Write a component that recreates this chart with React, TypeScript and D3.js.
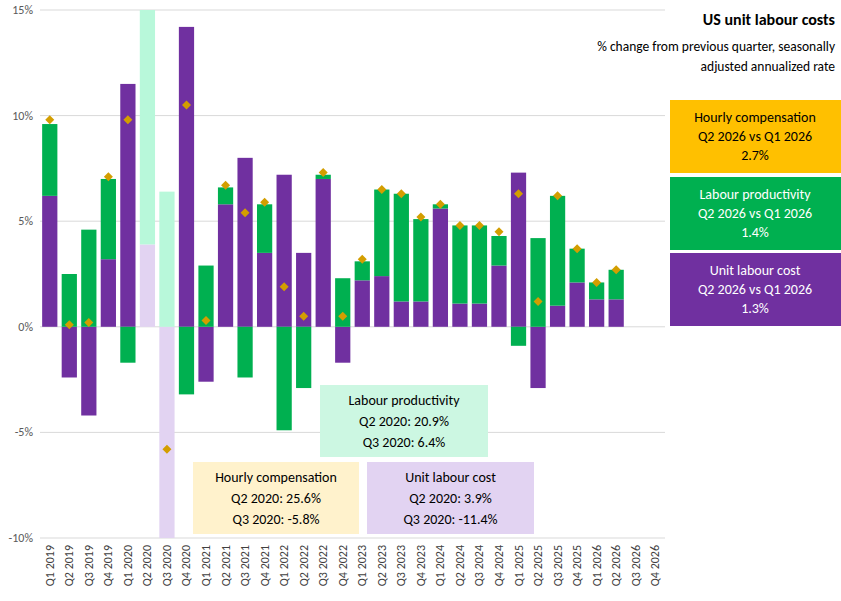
import React from 'react';
import * as d3 from 'd3';

const quarters = [
  'Q1 2019','Q2 2019','Q3 2019','Q4 2019','Q1 2020','Q2 2020','Q3 2020','Q4 2020',
  'Q1 2021','Q2 2021','Q3 2021','Q4 2021','Q1 2022','Q2 2022','Q3 2022','Q4 2022',
  'Q1 2023','Q2 2023','Q3 2023','Q4 2023','Q1 2024','Q2 2024','Q3 2024','Q4 2024',
  'Q1 2025','Q2 2025','Q3 2025','Q4 2025','Q1 2026','Q2 2026','Q3 2026','Q4 2026',
];
const unitLabourCost: (number | null)[] = [
  6.2, -2.4, -4.2, 3.2, 11.5, 3.9, -11.4, 14.2,
  -2.6, 5.8, 8.0, 3.5, 7.2, 3.5, 7.0, -1.7,
  2.2, 2.4, 1.2, 1.2, 5.6, 1.1, 1.1, 2.9,
  7.3, -2.9, 1.0, 2.1, 1.3, 1.3, null, null,
];
const productivity: (number | null)[] = [
  3.4, 2.5, 4.6, 3.8, -1.7, 20.9, 6.4, -3.2,
  2.9, 0.8, -2.4, 2.3, -4.9, -2.9, 0.2, 2.3,
  0.9, 4.1, 5.1, 3.9, 0.2, 3.7, 3.7, 1.4,
  -0.9, 4.2, 5.2, 1.6, 0.8, 1.4, null, null,
];
const hourlyComp: (number | null)[] = [
  9.8, 0.1, 0.2, 7.1, 9.8, 25.6, -5.8, 10.5,
  0.3, 6.7, 5.4, 5.9, 1.9, 0.5, 7.3, 0.5,
  3.2, 6.5, 6.3, 5.2, 5.8, 4.8, 4.8, 4.5,
  6.3, 1.2, 6.2, 3.7, 2.1, 2.7, null, null,
];
const yTicks = [-10, -5, 0, 5, 10, 15];
const outliers = ['Q2 2020', 'Q3 2020'];

const PURPLE = '#7030A0', GREEN = '#00B050', GOLD = '#D39E00', ORANGE = '#FFC000';
const LGREEN = '#B8F8DA', LPURPLE = '#E2D3F2';
const font = 'Calibri, Carlito, "Liberation Sans", Arial, sans-serif';

export default function App() {
  const W = 841, H = 601;
  const m = { left: 40, right: 176, top: 10, bottom: 63 };
  const x = d3.scaleBand().domain(quarters).range([m.left, W - m.right]).paddingInner(0.22).paddingOuter(0.11);
  const y = d3.scaleLinear().domain([-10, 15]).range([H - m.bottom, m.top]);
  const clip = (v: number) => y(Math.max(-10, Math.min(15, v)));

  const bars: JSX.Element[] = [];
  quarters.forEach((q, i) => {
    const u = unitLabourCost[i], p = productivity[i];
    if (u == null || p == null) return;
    const light = outliers.includes(q);
    let pos = 0, neg = 0;
    const add = (v: number, color: string, key: string) => {
      const base = v >= 0 ? pos : neg;
      const top = base + v;
      if (v >= 0) pos = top; else neg = top;
      const y0 = clip(base), y1 = clip(top);
      bars.push(<rect key={q + key} x={x(q)} width={x.bandwidth()} y={Math.min(y0, y1)} height={Math.abs(y1 - y0)} fill={color} />);
    };
    add(u, light ? LPURPLE : PURPLE, 'u');
    add(p, light ? LGREEN : GREEN, 'p');
  });

  const diamonds = quarters.map((q, i) => {
    const h = hourlyComp[i];
    if (h == null || h > 15) return null;
    const cx = x(q)! + x.bandwidth() / 2, cy = y(h);
    return <path key={q} d={`M${cx},${cy - 4.5}L${cx + 4.5},${cy}L${cx},${cy + 4.5}L${cx - 4.5},${cy}Z`} fill={GOLD} />;
  });

  const legend = [
    { bg: ORANGE, fg: '#000', t: ['Hourly compensation', 'Q2 2026 vs Q1 2026', '2.7%'], y: 100 },
    { bg: GREEN, fg: '#fff', t: ['Labour productivity', 'Q2 2026 vs Q1 2026', '1.4%'], y: 177 },
    { bg: PURPLE, fg: '#fff', t: ['Unit labour cost', 'Q2 2026 vs Q1 2026', '1.3%'], y: 253 },
  ];
  const notes = [
    { bg: '#CCF7E2', x: 320, y: 385, w: 168, t: ['Labour productivity', 'Q2 2020: 20.9%', 'Q3 2020: 6.4%'] },
    { bg: '#FFF2CC', x: 193, y: 462, w: 166, t: ['Hourly compensation', 'Q2 2020: 25.6%', 'Q3 2020: -5.8%'] },
    { bg: '#E2D3F2', x: 367, y: 462, w: 167, t: ['Unit labour cost', 'Q2 2020: 3.9%', 'Q3 2020: -11.4%'] },
  ];

  return (
    <svg width={W} height={H} style={{ position: 'absolute', left: 0, top: 0, background: '#fff', fontFamily: font }}>
      <rect width={W} height={H} fill="#fff" />
      {yTicks.map(t => (
        <g key={t}>
          <line x1={m.left} x2={W - m.right} y1={y(t)} y2={y(t)} stroke="#D9D9D9" />
          <text x={33} y={y(t) + 4} textAnchor="end" fontSize={12} fill="#595959">{t}%</text>
        </g>
      ))}
      {bars}
      {diamonds}
      {quarters.map(q => (
        <text key={q} transform={`translate(${x(q)! + x.bandwidth() / 2 + 4},${H - m.bottom + 7}) rotate(-90)`} textAnchor="end" fontSize={12} fill="#404040">{q}</text>
      ))}
      <text x={835} y={25} textAnchor="end" fontSize={16} fontWeight="bold" fill="#000">US unit labour costs</text>
      <text x={835} y={51} textAnchor="end" fontSize={13.5} fill="#000">% change from previous quarter, seasonally</text>
      <text x={835} y={71} textAnchor="end" fontSize={13.5} fill="#000">adjusted annualized rate</text>
      {legend.map(l => (
        <g key={l.t[0]}>
          <rect x={670} y={l.y} width={171} height={73} fill={l.bg} />
          {l.t.map((s, j) => (
            <text key={j} x={755} y={l.y + 22 + j * 19} textAnchor="middle" fontSize={14} fill={l.fg}>{s}</text>
          ))}
        </g>
      ))}
      {notes.map(n => (
        <g key={n.t[0]}>
          <rect x={n.x} y={n.y} width={n.w} height={72} fill={n.bg} />
          {n.t.map((s, j) => (
            <text key={j} x={n.x + n.w / 2} y={n.y + 20 + j * 21} textAnchor="middle" fontSize={14} fill="#000">{s}</text>
          ))}
        </g>
      ))}
    </svg>
  );
}
